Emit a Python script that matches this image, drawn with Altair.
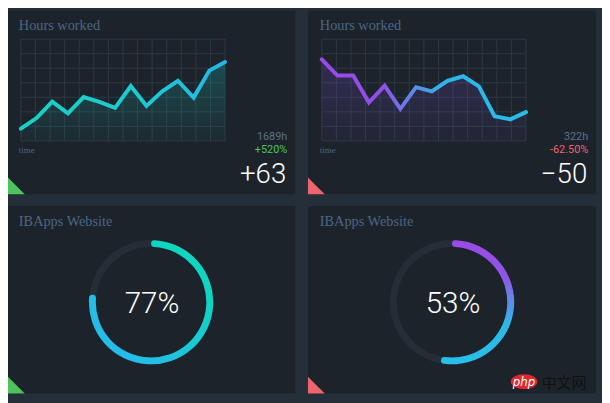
import math
import altair as alt
import pandas as pd

# ---------------- data ----------------
hours_a = [8.4, 15.7, 27.0, 18.9, 30.2, 26.8, 22.7, 37.7, 24.1, 34.1, 41.4, 29.8, 48.4, 54.3]
hours_b = [56.1, 45.0, 45.0, 26.4, 38.0, 22.0, 37.0, 34.1, 41.4, 44.5, 37.5, 17.0, 14.8, 19.8]
y_grid = [0, 10, 20, 30, 40, 50, 60, 70]
grid_cols = 14
line_titles = ["Hours worked", "Hours worked"]
totals = ["1689h", "322h"]
changes = ["+520%", "-62.50%"]
deltas = ["+63", "\u221250"]
axis_text = ["time"]
gauge_titles = ["IBApps Website", "IBApps Website"]
gauge_pct = [77, 53]
watermark = ["php", "中文网"]

# ---------------- styles ----------------
OUTER = "#252f39"
PANEL = "#1d232b"
GRID = "#2c3944"
TITLE = "#4a6786"
MUTED = "#5a7189"
GREEN = "#4cc35c"
RED = "#f0646e"
TRACK = "#252d36"
SERIF = "Liberation Serif"
SANS = "Roboto"


def grad(stops, horizontal=False, x1=0, y1=0, x2=0, y2=1):
    if horizontal:
        x1, y1, x2, y2 = 0, 0, 1, 0
    return alt.Gradient(
        gradient="linear",
        stops=[alt.GradientStop(offset=o, color=c) for o, c in stops],
        x1=x1, y1=y1, x2=x2, y2=y2,
    )


def label_layer(text, x, y, size, color, font, align="left", style=None, weight=None):
    kw = {}
    if style:
        kw["fontStyle"] = style
    if weight:
        kw["fontWeight"] = weight
    return alt.Chart(pd.DataFrame({"label": [text]})).mark_text(
        align=align, baseline="alphabetic", font=font, fontSize=size, color=color, **kw
    ).encode(x=alt.value(x), y=alt.value(y), text="label:N")


def triangle(color, cy):
    return alt.Chart(pd.DataFrame({"k": [0]})).mark_point(
        shape="M-1,-1L-1,1L1,1Z", filled=True, size=289, color=color, opacity=1, strokeWidth=0
    ).encode(x=alt.value(8.5), y=alt.value(cy))


def line_panel(values, width, x0, line_stops, area_stops, accent, title, total, change, delta):
    n = len(values) - 1
    xs = alt.Scale(domain=[0, n], range=[x0, x0 + 207], nice=False, zero=False)
    ys = alt.Scale(domain=[0, 70], range=[132, 29], nice=False)
    df = pd.DataFrame({"t": list(range(len(values))), "v": values})
    vg = pd.DataFrame({"t": [k * n / grid_cols for k in range(grid_cols + 1)],
                       "lo": 0, "hi": 70})
    hg = pd.DataFrame({"v": y_grid, "a": 0, "b": n})
    vrules = alt.Chart(vg).mark_rule(color=GRID, strokeWidth=1).encode(
        x=alt.X("t:Q", scale=xs, axis=None),
        y=alt.Y("lo:Q", scale=ys, axis=None), y2="hi:Q")
    hrules = alt.Chart(hg).mark_rule(color=GRID, strokeWidth=1).encode(
        y=alt.Y("v:Q", scale=ys, axis=None),
        x=alt.X("a:Q", scale=xs, axis=None), x2="b:Q")
    area = alt.Chart(df).mark_area(color=grad(area_stops)).encode(
        x=alt.X("t:Q", scale=xs, axis=None), y=alt.Y("v:Q", scale=ys, axis=None))
    line = alt.Chart(df).mark_line(
        stroke=grad(line_stops, horizontal=True), strokeWidth=4, strokeCap="round", strokeJoin="miter"
    ).encode(x=alt.X("t:Q", scale=xs, axis=None), y=alt.Y("v:Q", scale=ys, axis=None))
    layers = [
        vrules, hrules, area, line,
        label_layer(title, x0 - 2, 19.5, 14.5, TITLE, SERIF),
        label_layer(axis_text[0], x0 - 2, 144, 9, TITLE, SERIF),
        label_layer(total, width - 8, 131.5, 11, MUTED, SANS, align="right"),
        label_layer(change, width - 8, 144.5, 11, accent, SANS, align="right"),
        label_layer(delta, width - 9, 175, 28, "#ffffff", SANS, align="right", weight=300),
        triangle(accent, 177.5),
    ]
    return alt.layer(*layers).properties(width=width, height=186)


def gauge_panel(pct, width, cx, arc_grad, accent, title, title_x, text_x, extra=None):
    th = alt.Scale(domain=[0, 100], range=[0, 2 * math.pi])
    track = alt.Chart(pd.DataFrame({"p": [100]})).mark_arc(
        radius=63, radius2=56, color=TRACK
    ).encode(theta=alt.Theta("p:Q", scale=th, stack=True), x=alt.value(cx), y=alt.value(97.5))
    prog = alt.Chart(pd.DataFrame({"p": [pct]})).mark_arc(
        radius=63, radius2=56, cornerRadius=3.5, fill=arc_grad
    ).encode(theta=alt.Theta("p:Q", scale=th, stack=True), x=alt.value(cx), y=alt.value(97.5))
    layers = [
        track, prog,
        label_layer(title, title_x, 20.5, 14.5, TITLE, SERIF),
        label_layer(f"{pct}%", text_x, 108.5, 30, "#ffffff", SANS, align="center", weight=300),
        triangle(accent, 181.5),
    ]
    if extra:
        layers += extra
    return alt.layer(*layers).properties(width=width, height=190)


teal_line = [(0, "#16d2c4"), (0.6, "#1ccbd2"), (1, "#25b6e8")]
teal_area = [(0, "rgba(24,205,196,0.24)"), (1, "rgba(24,205,196,0.04)")]
purple_line = [(0, "#9d48e8"), (0.3, "#9050e8"), (0.45, "#5a8ce8"), (0.6, "#2db6e8"), (1, "#26bde8")]
purple_area = [(0, "rgba(130,80,225,0.22)"), (1, "rgba(130,80,225,0.05)")]

p1 = line_panel(hours_a, 291, 13, teal_line, teal_area, GREEN,
                line_titles[0], totals[0], changes[0], deltas[0])
p2 = line_panel(hours_b, 292, 14, purple_line, purple_area, RED,
                line_titles[1], totals[1], changes[1], deltas[1])

g1 = grad([(0.2, "#0ed6c0"), (0.8, "#25bde8")], x1=1, y1=0, x2=0, y2=1)
g2 = grad([(0, "#9b4ae8"), (0.3, "#8d57e8"), (0.5, "#5b8fe8"), (0.68, "#2fb7e8"), (1, "#26c0e8")])

wm_bg = alt.Chart(pd.DataFrame({"k": [0]})).mark_point(
    shape="M-1,0C-1,-0.3 -0.55,-0.55 0,-0.55C0.55,-0.55 1,-0.3 1,0C1,0.3 0.55,0.55 0,0.55C-0.55,0.55 -1,0.3 -1,0Z",
    filled=True, size=729, color="#e3272e", opacity=1, strokeWidth=0
).encode(x=alt.value(219), y=alt.value(178))
wm_php = label_layer(watermark[0], 219, 182, 12, "#ffffff", "DejaVu Sans", align="center", style="italic")
wm_cn = label_layer(watermark[1], 237, 184, 15, "#111111", "Noto Sans CJK SC")

p3 = gauge_panel(gauge_pct[0], 291, 145, g1, GREEN, gauge_titles[0], 11, 146)
p4 = gauge_panel(gauge_pct[1], 292, 146, g2, RED, gauge_titles[1], 12, 147,
                 extra=[wm_bg, wm_php, wm_cn])

row1 = alt.hconcat(p1, p2, spacing=13)
row2 = alt.hconcat(p3, p4, spacing=13)
chart = alt.vconcat(row1, row2, spacing=12).properties(
    background=OUTER,
    padding={"left": 0, "top": 0, "right": 6, "bottom": 7},
).configure_view(fill=PANEL, strokeWidth=0).configure_concat(spacing=12)

chart.save("out.html", embed_options={"renderer": "svg", "actions": False})
